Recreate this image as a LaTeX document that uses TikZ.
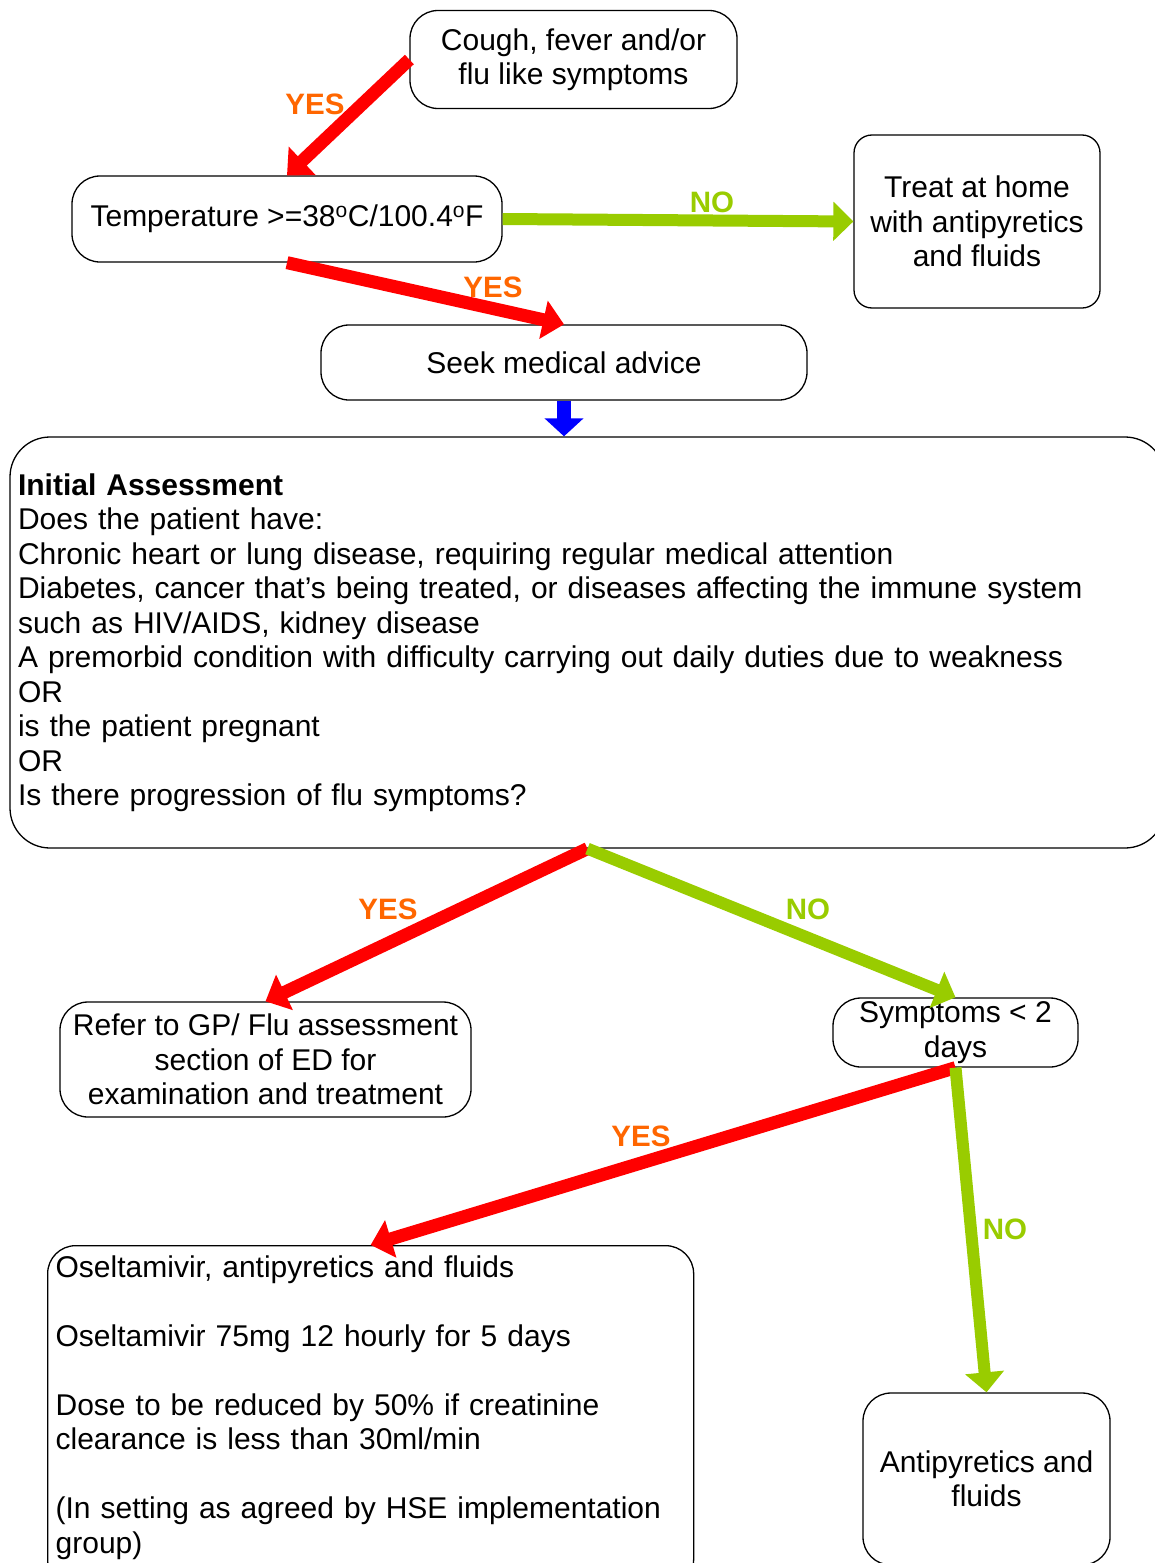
\documentclass[tikz,border=0pt]{standalone}
\usepackage{fontspec}
\setmainfont{Liberation Sans}
\usepackage{xcolor}
\usetikzlibrary{arrows.meta}

\definecolor{yesred}{HTML}{FF0000}
\definecolor{nogreen}{HTML}{99CC00}
\definecolor{lblorange}{HTML}{FF6600}
\definecolor{downblue}{HTML}{0000FF}

\tikzset{
	flowbox/.style={draw, line width=1.3pt, rounded corners=28pt, align=center, inner sep=2pt},
	yesarrow/.style={draw=yesred, line width=13pt, -{Triangle[width=38pt,length=21pt]}},
	noarrow/.style={draw=nogreen, line width=12pt, -{Triangle[width=38pt,length=20pt]}},
	yeslbl/.style={text=lblorange, font=\fontsize{29.5}{34}\selectfont\bfseries},
	nolbl/.style={text=nogreen, font=\fontsize{29.5}{34}\selectfont\bfseries}
}

\begin{document}
\begin{tikzpicture}[x=1pt, y=-1pt, font=\fontsize{30}{34.5}\selectfont]
			\useasboundingbox (0,0) rectangle (1155,1563);
			\clip (0,0) rectangle (1155,1563);

			\node[flowbox, minimum width=327pt, minimum height=98pt] (cough) at (573.5,59.5)
				{Cough, fever and/or\\flu like symptoms};
			\node[flowbox, minimum width=430pt, minimum height=86pt] (temp) at (287,219)
				{Temperature >=38\textsuperscript{o}C/100.4\textsuperscript{o}F};
			\node[flowbox, rounded corners=18pt, minimum width=246pt, minimum height=173pt] (treat) at (977,221.5)
				{Treat at home\\with antipyretics\\and fluids};
			\node[flowbox, minimum width=486pt, minimum height=75pt] (seek) at (564,362.5)
				{Seek medical advice};
			\node[flowbox, rounded corners=40pt, align=left, text width=1139pt, inner xsep=8pt,
				minimum height=411pt] (init) at (587.5,642.5)
				{\textbf{Initial Assessment}\\
				Does the patient have:\\
				Chronic heart or lung disease, requiring regular medical attention\\
				Diabetes, cancer that’s being treated, or diseases affecting the immune system\\
				such as HIV/AIDS, kidney disease\\
				A premorbid condition with difficulty carrying out daily duties due to weakness\\
				OR\\
				is the patient pregnant\\
				OR\\
				Is there progression of flu symptoms?};
			\node[flowbox, minimum width=411pt, minimum height=115pt] (refer) at (265.5,1059.5)
				{Refer to GP/ Flu assessment\\section of ED for\\examination and treatment};
			\node[flowbox, minimum width=245pt, minimum height=69pt] (symp) at (955.5,1032.5)
				{Symptoms < 2\\days};
			\node[flowbox, anchor=north west, align=left, text width=630pt, inner xsep=8pt, inner ysep=10pt,
				text depth=300pt] (osel) at (47,1245)
				{Oseltamivir, antipyretics and fluids\\[34.5pt]
				Oseltamivir 75mg 12 hourly for 5 days\\[34.5pt]
				Dose to be reduced by 50\% if creatinine\\
				clearance is less than 30ml/min\\[34.5pt]
				(In setting as agreed by HSE implementation\\
				group)};
			\node[flowbox, minimum width=247pt, minimum height=172pt] (anti) at (986.5,1479)
				{Antipyretics and\\fluids};

			\draw[yesarrow] (cough.west) -- (temp.north);
			\draw[noarrow] (temp.east) -- (treat.west);
			\draw[yesarrow] (temp.south) -- (seek.north);
			\draw[draw=downblue, line width=14pt, -{Triangle[width=38pt,length=18pt]}]
				(seek.south) -- (seek.south |- init.north);
			\draw[yesarrow] (init.south) -- (refer.north);
			\draw[noarrow] (init.south) -- (symp.north);
			\draw[yesarrow] (symp.south) -- (osel.north);
			\draw[noarrow] (symp.south) -- (anti.north);

			\node[yeslbl] (yes1) at (315,104) {YES};
			\node[nolbl] (no1) at (712,202) {NO};
			\node[yeslbl] (yes2) at (493,287) {YES};
			\node[yeslbl] (yes3) at (388,909) {YES};
			\node[nolbl] (no2) at (808,909) {NO};
			\node[yeslbl] (yes4) at (641,1136) {YES};
			\node[nolbl] (no3) at (1005,1229) {NO};
		\end{tikzpicture}
\end{document}
